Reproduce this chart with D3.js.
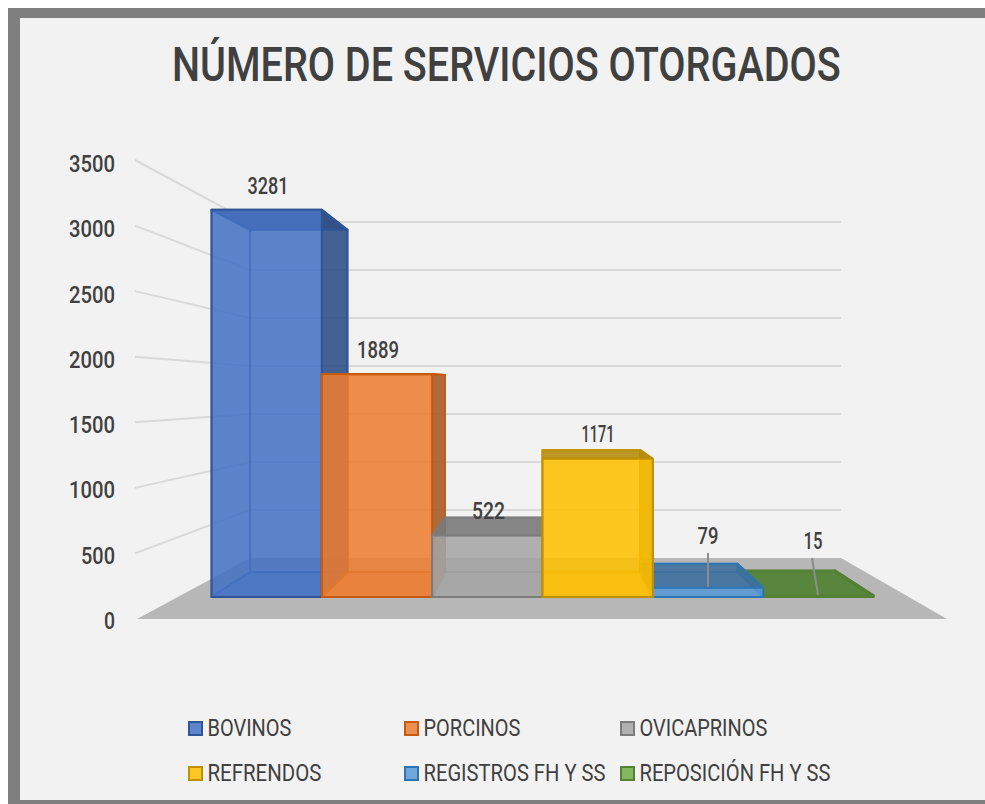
<!DOCTYPE html>
<html><head><meta charset="utf-8">
<script src="https://cdn.jsdelivr.net/npm/d3@7"></script>
<style>html,body{margin:0;padding:0;background:#fff;overflow:hidden}svg{display:block}text{font-family:"Roboto",sans-serif;fill:#404040}</style>
</head><body><svg id="c" width="985" height="804"></svg>
<script>
const categories=["BOVINOS","PORCINOS","OVICAPRINOS","REFRENDOS","REGISTROS FH Y SS","REPOSICIÓN FH Y SS"];
const values=[3281,1889,522,1171,79,15];
const fills=["#4472c4","#ed7d31","#a5a5a5","#ffc000","#5b9bd5","#70ad47"];
const strokes=["#2f5597","#c55a11","#7c7c7c","#bf9000","#2e75b6","#548235"];
const sides=["#2f4f85","#a35a28","#777777","#b08a10","#3f6f9a","#4f7f33"];
const ticks=[0,500,1000,1500,2000,2500,3000,3500];
const drawOrder=[0,1,2,5,4,3];

const svg=d3.select("#c");
svg.append("rect").attr("x",8).attr("y",8).attr("width",977).attr("height",796).attr("fill","#7f7f7f");
svg.append("rect").attr("x",20).attr("y",18).attr("width",965).attr("height",782).attr("fill","#f2f2f2");

const yFront=d3.scaleLinear().domain([0,3500]).range([597,184]);
const yBack=d3.scaleLinear().domain([0,3500]).range([572,207]);
const yWall=d3.scaleLinear().domain([0,3500]).range([558,222]);
const yAxis=d3.scaleLinear().domain([0,3500]).range([619,160]);
const yLabel=d3.scaleLinear().domain([0,3500]).range([629,172]);
const xFront=d3.scaleBand().domain(categories).range([211.5,873.5]);
const xBack=d3.scaleBand().domain(categories).range([250,835]);

const poly=pts=>"M"+pts.map(p=>p.join(",")).join("L")+"Z";
// squeeze a text horizontally to a given width, keeping its real box
function fit(sel,x,y,w,anchor){
  sel.each(function(){
    const L=this.getComputedTextLength(),k=w/L;
    const x0=anchor==="end"?x-w:anchor==="middle"?x-w/2:x;
    d3.select(this).attr("transform",`translate(${x0},${y}) scale(${k},1)`);
  });
  return sel;
}

// floor
svg.append("path").attr("fill","#b7b7b7")
 .attr("d",poly([[137,yAxis(0)],[947,yAxis(0)],[841,yWall(0)],[250,yWall(0)]]));
// gridlines
const grid=svg.append("g").attr("fill","none").attr("stroke","#d9d9d9").attr("stroke-width",2);
ticks.filter(t=>t>0).forEach(t=>{
  grid.append("path").attr("d",`M135,${yAxis(t)}L250,${yWall(t)}L841,${yWall(t)}`);
});
// axis labels
const axisG=svg.append("g");
ticks.forEach(t=>{
  const s=axisG.append("text").attr("font-size",24).attr("font-weight",500).text(t);
  fit(s,115,yLabel(t),t===0?11:t<1000?34:46,"end");
});

// bars
drawOrder.forEach(i=>{
  const c=categories[i],v=values[i];
  const fl=xFront(c),fr=fl+xFront.bandwidth(),bl=xBack(c),br=bl+xBack.bandwidth();
  const ft=yFront(v),fb=yFront(0),bt=yBack(v),bb=yBack(0);
  const g=svg.append("g").attr("stroke",strokes[i]).attr("stroke-width",2).attr("stroke-linejoin","round");
  const face=(pts,fill,op,sw)=>g.append("path").attr("d",poly(pts)).attr("fill",fill).attr("fill-opacity",op)
    .attr("stroke-opacity",sw);
  face([[bl,bt],[br,bt],[br,bb],[bl,bb]],fills[i],0.35,0.5);
  face([[fl,fb],[fr,fb],[br,bb],[bl,bb]],fills[i],0.55,0.5);
  face([[fl,ft],[bl,bt],[bl,bb],[fl,fb]],fills[i],0.35,0.5);
  face([[fr,ft],[br,bt],[br,bb],[fr,fb]],sides[i],0.85,0.9);
  face([[fl,ft],[fr,ft],[br,bt],[bl,bt]],sides[i],0.85,0.9);
  face([[fl,ft],[fr,ft],[fr,fb],[fl,fb]],fills[i],0.8,1);
});

// leader lines
const leaders=svg.append("g").attr("stroke","#8c8c8c").attr("stroke-width",2);
leaders.append("line").attr("x1",708).attr("y1",553).attr("x2",708).attr("y2",587);
leaders.append("line").attr("x1",812).attr("y1",558).attr("x2",818).attr("y2",595);

// data labels
const labelX=[268,378,488.5,598,708,813],labelY=[194,358,519,442,544,549],labelW=[41,42,33,33,21,19];
const labelG=svg.append("g");
values.forEach((d,i)=>{
  fit(labelG.append("text").attr("font-size",24).attr("font-weight",500).text(d),labelX[i],labelY[i],labelW[i],"middle");
});

// title
fit(svg.append("text").attr("font-size",49).attr("font-weight",500).text("NÚMERO DE SERVICIOS OTORGADOS"),172,81,669,"start");

// legend
const legX=[188,404,620],legY=[728,773],legW=[84,97,128,114,182,191];
const leg=svg.append("g");
categories.forEach((c,i)=>{
  const x=legX[i%3],y=legY[Math.floor(i/3)];
  leg.append("rect").attr("x",x+1).attr("y",y-6).attr("width",13).attr("height",13)
   .attr("fill",fills[i]).attr("fill-opacity",.85).attr("stroke",strokes[i]).attr("stroke-width",2);
  fit(leg.append("text").attr("font-size",23).text(c),x+19.5,y+8,legW[i],"start");
});
</script></body></html>
